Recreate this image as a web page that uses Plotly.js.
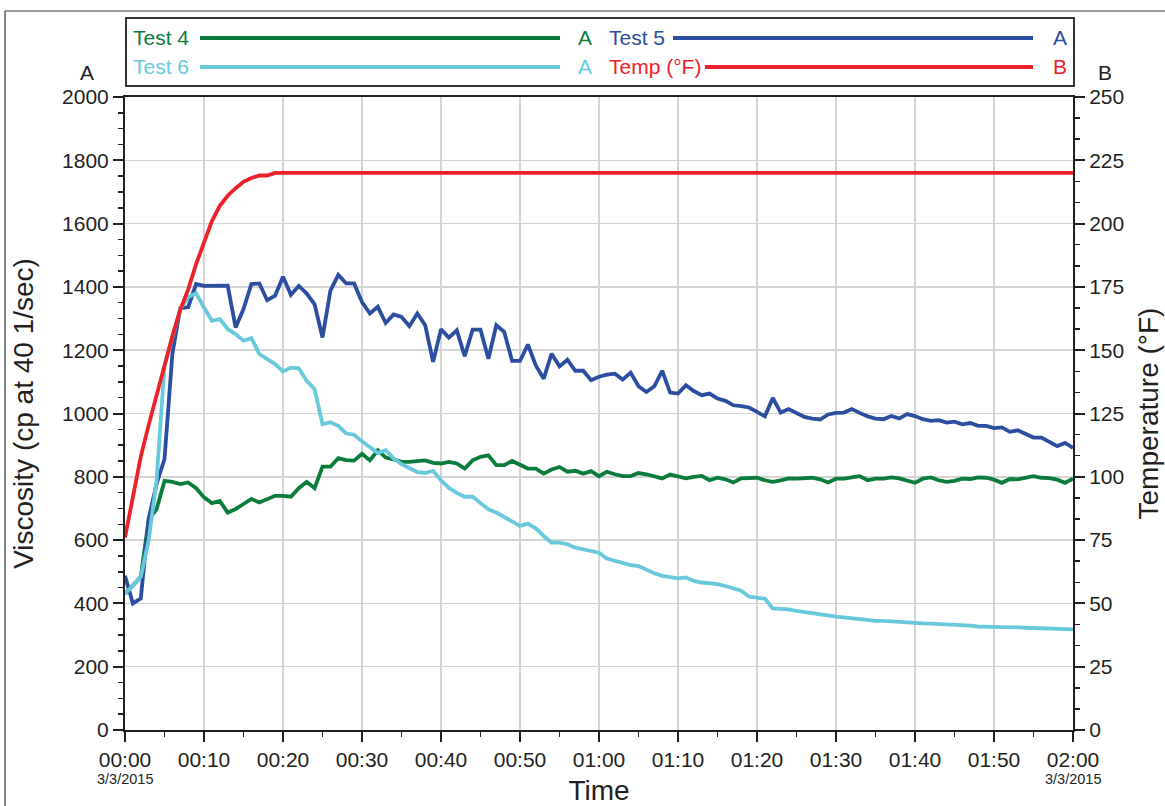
<!DOCTYPE html>
<html>
<head>
<meta charset="utf-8">
<script src="https://cdn.plot.ly/plotly-3.0.1.min.js"></script>
<style>
  html, body { margin: 0; padding: 0; background: #ffffff; }
  #chart { width: 1165px; height: 806px; }
</style>
</head>
<body>
<div id="chart"></div>
<script>
// Time in minutes since 3/3/2015 00:00
const minutes = [0,1,2,3,4,5,6,7,8,9,10,11,12,13,14,15,16,17,18,19,20,21,22,23,24,25,26,27,28,29,30,31,32,33,34,35,36,37,38,39,40,41,42,43,44,45,46,47,48,49,50,51,52,53,54,55,56,57,58,59,60,61,62,63,64,65,66,67,68,69,70,71,72,73,74,75,76,77,78,79,80,81,82,83,84,85,86,87,88,89,90,91,92,93,94,95,96,97,98,99,100,101,102,103,104,105,106,107,108,109,110,111,112,113,114,115,116,117,118,119,120];

const test4 = [430,456,484,665,698,787,784,777,782,764,735,717,724,687,698,714,730,719,730,740,740,737,764,784,764,832,832,859,853,851,
873,852,884,861,855,847,847,849,852,844,842,847,842,826,852,863,868,837,837,850,837,826,826,810,823,831,816,819,810,818,
802,816,808,802,802,812,808,803,795,807,800,795,800,803,789,797,792,782,795,795,797,789,784,789,795,794,797,797,792,782,
794,794,798,802,789,794,794,798,795,789,781,794,798,789,784,787,794,793,798,797,791,781,793,792,798,802,797,796,791,781,794];

const test5 = [487,400,416,668,778,856,1190,1333,1336,1409,1403,1403,1404,1404,1272,1330,1409,1411,1358,1372,1432,1375,1403,1379,1345,1240,1388,1438,1411,1411,
1352,1316,1337,1286,1313,1305,1276,1316,1279,1163,1266,1240,1263,1181,1265,1265,1173,1279,1258,1166,1166,1218,1152,1110,1189,1149,1170,1135,1135,1105,
1116,1123,1126,1107,1129,1086,1068,1086,1135,1066,1063,1089,1071,1058,1063,1047,1040,1026,1023,1019,1005,991,1049,1003,1014,1000,989,984,981,997,
1002,1003,1014,1002,991,984,982,992,984,998,992,982,977,979,971,974,966,970,961,961,954,956,942,947,935,924,924,910,897,907,891];

const test6 = [430,456,484,600,790,1150,1245,1330,1368,1380,1335,1293,1298,1267,1251,1230,1238,1188,1172,1156,1133,1145,1143,1103,1077,966,972,961,937,933,
912,895,875,884,858,840,829,815,812,819,789,765,749,737,737,718,697,687,673,658,645,652,637,613,592,592,587,576,570,565,
560,542,535,531,521,518,505,495,487,484,479,482,471,466,465,461,455,448,440,421,419,415,384,383,381,376,372,367,365,360,
358,356,353,350,347,345,345,343,340,339,338,337,336,335,333,332,332,330,327,328,326,325,323,324,323,322,322,322,321,320,318];

const tempF = [76,93,108,120.5,132.6,144.5,155.6,166,174,184,193,201,207,211,214,216.5,218,219,219,220,220,220,220,220,220,220,220,220,220,220,
220,220,220,220,220,220,220,220,220,220,220,220,220,220,220,220,220,220,220,220,220,220,220,220,220,220,220,220,220,220,
220,220,220,220,220,220,220,220,220,220,220,220,220,220,220,220,220,220,220,220,220,220,220,220,220,220,220,220,220,220,
220,220,220,220,220,220,220,220,220,220,220,220,220,220,220,220,220,220,220,220,220,220,220,220,220,220,220,220,220,220,220];

const xTickVals = [0,10,20,30,40,50,60,70,80,90,100,110,120];
const xTickText = ["00:00","00:10","00:20","00:30","00:40","00:50","01:00","01:10","01:20","01:30","01:40","01:50","02:00"];
const dateLabel = "3/3/2015";

const seriesNames = ["Test 4","Test 5","Test 6","Temp (°F)"];
const seriesAxisLetters = ["A","A","A","B"];
const colors = {green:"#0a7d3d", blue:"#2c4ea0", cyan:"#68c9dc", red:"#ec2129"};

const FONT = "Liberation Sans, Arial, Helvetica, sans-serif";
const INK = "#231f20";
const LW = 3.8;

const traces = [
  {x: minutes, y: test4, name: seriesNames[0], type: "scatter", mode: "lines", line: {color: colors.green, width: LW}, yaxis: "y"},
  {x: minutes, y: test5, name: seriesNames[1], type: "scatter", mode: "lines", line: {color: colors.blue, width: LW}, yaxis: "y"},
  {x: minutes, y: test6, name: seriesNames[2], type: "scatter", mode: "lines", line: {color: colors.cyan, width: LW}, yaxis: "y"},
  {x: minutes, y: tempF, name: seriesNames[3], type: "scatter", mode: "lines", line: {color: colors.red, width: LW}, yaxis: "y2"}
];

// plot area in px: x 125..1073, y 97..730
const L = 125, R = 1073, T = 97, B = 730;
const px = v => (v - L) / (R - L);
const py = v => (B - v) / (B - T);

// custom legend (two columns, two rows)
const legendItems = [
  {name: seriesNames[0], letter: seriesAxisLetters[0], color: colors.green, tx: 131, lx0: 200, lx1: 560, ax: 585, y: 38},
  {name: seriesNames[1], letter: seriesAxisLetters[1], color: colors.blue,  tx: 607, lx0: 673, lx1: 1033, ax: 1060, y: 38},
  {name: seriesNames[2], letter: seriesAxisLetters[2], color: colors.cyan,  tx: 131, lx0: 200, lx1: 560, ax: 585, y: 67},
  {name: seriesNames[3], letter: seriesAxisLetters[3], color: colors.red,   tx: 607, lx0: 705, lx1: 1033, ax: 1060, y: 67}
];

const shapes = [
  // outer frame (top & left edges)
  {type: "line", xref: "paper", yref: "paper", x0: px(5), x1: px(1170), y0: py(11), y1: py(11), line: {color: "#333", width: 1.2}},
  {type: "line", xref: "paper", yref: "paper", x0: px(5), x1: px(5), y0: py(11), y1: py(812), line: {color: "#333", width: 1.2}},
  // legend box
  {type: "rect", xref: "paper", yref: "paper", x0: px(126), x1: px(1074), y0: py(86), y1: py(18), line: {color: "#333", width: 2}, fillcolor: "rgba(0,0,0,0)"}
];
const annotations = [
  {xref: "paper", yref: "paper", x: px(87), y: py(72), text: "A", showarrow: false, xanchor: "center", yanchor: "middle", font: {family: FONT, size: 21, color: INK}},
  {xref: "paper", yref: "paper", x: px(1105), y: py(72), text: "B", showarrow: false, xanchor: "center", yanchor: "middle", font: {family: FONT, size: 21, color: INK}},
  {xref: "x", yref: "paper", x: xTickVals[0], y: py(779), text: dateLabel, showarrow: false, xanchor: "center", yanchor: "middle", font: {family: FONT, size: 14.5, color: INK}},
  {xref: "x", yref: "paper", x: xTickVals[xTickVals.length - 1], y: py(779), text: dateLabel, showarrow: false, xanchor: "center", yanchor: "middle", font: {family: FONT, size: 14.5, color: INK}}
];
legendItems.forEach(it => {
  shapes.push({type: "line", xref: "paper", yref: "paper", x0: px(it.lx0), x1: px(it.lx1), y0: py(it.y), y1: py(it.y), line: {color: it.color, width: 3.8}});
  annotations.push({xref: "paper", yref: "paper", x: px(it.tx), y: py(it.y), text: it.name, showarrow: false, xanchor: "left", yanchor: "middle", font: {family: FONT, size: 21, color: it.color}});
  annotations.push({xref: "paper", yref: "paper", x: px(it.ax), y: py(it.y), text: it.letter, showarrow: false, xanchor: "center", yanchor: "middle", font: {family: FONT, size: 21, color: it.color}});
});

const layout = {
  width: 1165, height: 806,
  margin: {l: L, r: 1165 - R, t: T, b: 806 - B, pad: 0},
  paper_bgcolor: "#ffffff", plot_bgcolor: "#ffffff",
  showlegend: false,
  font: {family: FONT, color: INK, size: 20},
  xaxis: {
    range: [0, 120], tickmode: "array", tickvals: xTickVals, ticktext: xTickText,
    showgrid: true, gridcolor: "#d4d4d4", gridwidth: 1.5, zeroline: false,
    showline: true, linecolor: INK, linewidth: 2, mirror: true,
    ticks: "outside", ticklen: 10, tickwidth: 2, tickcolor: INK,
    minor: {dtick: 5, tick0: 0, ticks: "outside", ticklen: 5, tickwidth: 1.5, tickcolor: INK, showgrid: false},
    tickfont: {family: FONT, size: 21, color: INK},
    title: {text: "Time", font: {family: FONT, size: 28, color: INK}, standoff: 28}
  },
  yaxis: {
    range: [0, 2000], dtick: 200, tick0: 0,
    showgrid: true, gridcolor: "#d4d4d4", gridwidth: 1.5, zeroline: false,
    showline: true, linecolor: INK, linewidth: 2,
    ticks: "outside", ticklen: 10, tickwidth: 2, tickcolor: INK,
    minor: {dtick: 50, tick0: 0, ticks: "outside", ticklen: 5, tickwidth: 1.5, tickcolor: INK, showgrid: false},
    tickfont: {family: FONT, size: 21, color: INK},
    title: {text: "Viscosity (cp at 40 1/sec)", font: {family: FONT, size: 28, color: INK}, standoff: 20}
  },
  yaxis2: {
    overlaying: "y", side: "right", anchor: "x",
    range: [0, 250], dtick: 25, tick0: 0,
    showgrid: false, zeroline: false,
    showline: true, linecolor: INK, linewidth: 2,
    ticks: "outside", ticklen: 10, tickwidth: 2, tickcolor: INK,
    minor: {dtick: 25 / 3, tick0: 0, ticks: "outside", ticklen: 5, tickwidth: 1.5, tickcolor: INK, showgrid: false},
    tickfont: {family: FONT, size: 21, color: INK},
    title: {text: "Temperature (°F)", font: {family: FONT, size: 28, color: INK}, standoff: 15}
  },
  shapes: shapes,
  annotations: annotations
};

Plotly.newPlot("chart", traces, layout, {displayModeBar: false, staticPlot: true});
</script>
</body>
</html>
